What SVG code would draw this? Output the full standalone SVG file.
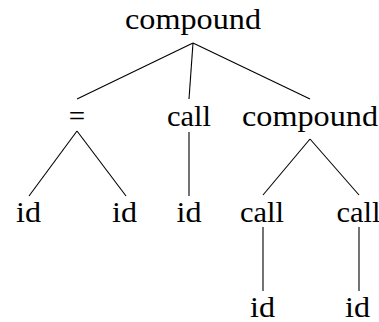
<svg xmlns="http://www.w3.org/2000/svg" width="379" height="322" viewBox="0 0 379 322">
<style>
text{font-family:"Liberation Serif","Times New Roman",serif;font-size:29px;fill:#000;text-anchor:middle}
.e line{stroke:#000;stroke-width:1.1}
</style>
<rect width="379" height="322" fill="#fff"/>
<g class="e" id="edges">
<line x1="193" y1="43" x2="77" y2="99"/>
<line x1="193" y1="43" x2="189" y2="99"/>
<line x1="193" y1="43" x2="310" y2="99"/>
<line x1="77" y1="131" x2="29" y2="196"/>
<line x1="77" y1="131" x2="126" y2="196"/>
<line x1="189" y1="132" x2="189" y2="196"/>
<line x1="310" y1="139" x2="263" y2="195"/>
<line x1="310" y1="139" x2="359" y2="195"/>
<line x1="263" y1="227" x2="263" y2="291"/>
<line x1="359" y1="227" x2="359" y2="291"/>
</g>
<g id="n-root"><text x="193" y="29" textLength="136" lengthAdjust="spacingAndGlyphs">compound</text></g>
<g id="n-eq"><text x="77" y="126">=</text></g>
<g id="n-call1"><text x="189" y="126" textLength="44" lengthAdjust="spacingAndGlyphs">call</text></g>
<g id="n-comp2"><text x="310" y="126" textLength="136" lengthAdjust="spacingAndGlyphs">compound</text></g>
<g id="n-id1"><text x="28.5" y="222" textLength="25" lengthAdjust="spacingAndGlyphs">id</text></g>
<g id="n-id2"><text x="124.5" y="222" textLength="25" lengthAdjust="spacingAndGlyphs">id</text></g>
<g id="n-id3"><text x="189" y="222" textLength="25" lengthAdjust="spacingAndGlyphs">id</text></g>
<g id="n-call2"><text x="262" y="222" textLength="44" lengthAdjust="spacingAndGlyphs">call</text></g>
<g id="n-call3"><text x="358.5" y="222" textLength="44" lengthAdjust="spacingAndGlyphs">call</text></g>
<g id="n-id4"><text x="262.5" y="317" textLength="25" lengthAdjust="spacingAndGlyphs">id</text></g>
<g id="n-id5"><text x="357.5" y="317" textLength="25" lengthAdjust="spacingAndGlyphs">id</text></g>
</svg>
